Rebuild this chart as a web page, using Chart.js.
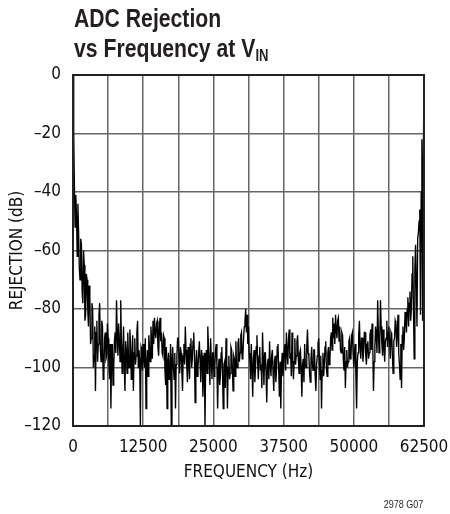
<!DOCTYPE html>
<html><head><meta charset="utf-8">
<script src="https://cdn.jsdelivr.net/npm/chart.js@4.4.1/dist/chart.umd.min.js"></script>
<style>
html,body{margin:0;padding:0;background:#fff;}
#wrap{position:relative;width:450px;height:514px;overflow:hidden;}
canvas{position:absolute;left:0;top:0;}
#title{position:absolute;left:74px;top:3px;font-family:'Liberation Sans',Arial,sans-serif;font-weight:bold;font-size:26px;line-height:30px;color:#231f20;white-space:nowrap;transform:scaleX(0.815);transform-origin:0 0;}
#title .sub{font-size:16px;position:relative;top:4px;}
#note{position:absolute;right:27px;top:498px;font-family:'Liberation Sans',Arial,sans-serif;font-size:11px;line-height:13px;color:#231f20;white-space:nowrap;transform:scaleX(0.82);transform-origin:100% 0;}
</style></head>
<body>
<div id="wrap">
<canvas id="c" width="450" height="514" style="width:450px;height:514px"></canvas>
<div id="title">ADC Rejection<br>vs Frequency at V<span class="sub">IN</span></div>
<div id="note">2978 G07</div>
</div>
<script>
// Frequency spacing of the trace samples (Hz), starting at 0 Hz
const freqStepHz = 125;
// Rejection (dB), one value per 125 Hz, 0 .. 62500 Hz
const rejectionDb = [
  0, -20, -38, -52, -41, -48, -62, -44, -54, -66, -70, -56, -58, -74, -78, -60, -65, -84, -82, -68, -70, -80, -86, -72, -76, -92, -90, -78, -80, -100, -96, -86, -108, -88, -84, -98, -92, -82, -78, -94, -98, -84, -86, -104, -102, -90, -88, -97, -96, -85,
  -90, -98, -104, -92, -114, -96, -92, -106, -100, -91, -88, -95, -77, -89, -96, -85, -90, -98, -77, -92, -102, -94, -86, -99, -108, -91, -94, -102, -88, -96, -100, -87, -92, -104, -97, -89, -108, -95, -90, -99, -96, -88, -84, -100, -94, -98, -120, -93, -94, -101,
  -92, -97, -100, -90, -114, -99, -94, -103, -89, -93, -98, -86, -91, -97, -84, -92, -83, -88, -90, -85, -84, -93, -96, -87, -83, -91, -88, -95, -96, -89, -90, -101, -106, -93, -114, -98, -95, -104, -102, -92, -120, -97, -93, -100, -104, -95, -114, -99, -96, -90,
  -90, -97, -102, -93, -95, -101, -108, -96, -92, -99, -86, -94, -99, -105, -93, -98, -104, -92, -90, -100, -97, -91, -88, -96, -112, -99, -94, -103, -100, -95, -91, -98, -105, -94, -96, -110, -101, -95, -120, -99, -94, -102, -86, -93, -98, -106, -90, -97, -104, -95,
  -95, -103, -100, -94, -92, -99, -114, -101, -97, -106, -103, -95, -93, -102, -114, -99, -98, -107, -90, -97, -114, -100, -96, -104, -102, -93, -94, -100, -108, -96, -97, -103, -91, -99, -100, -92, -90, -98, -95, -89, -88, -97, -96, -90, -86, -84, -80, -88, -82, -92,
  -86, -95, -98, -104, -92, -100, -110, -97, -94, -105, -100, -93, -89, -98, -104, -96, -93, -101, -99, -107, -88, -97, -106, -95, -95, -102, -112, -99, -97, -104, -91, -99, -103, -96, -94, -102, -108, -98, -96, -105, -100, -93, -92, -101, -110, -98, -114, -100, -95, -103,
  -100, -94, -92, -101, -88, -95, -99, -90, -87, -97, -95, -103, -88, -96, -104, -98, -90, -99, -96, -91, -89, -97, -102, -95, -94, -100, -110, -99, -97, -105, -92, -100, -100, -93, -87, -95, -96, -102, -105, -97, -93, -99, -101, -94, -94, -103, -108, -99, -96, -92,
  -90, -98, -104, -96, -114, -101, -95, -103, -99, -93, -91, -100, -103, -95, -93, -99, -97, -90, -88, -94, -83, -90, -85, -92, -82, -87, -90, -84, -83, -91, -86, -94, -95, -88, -89, -97, -101, -93, -107, -98, -94, -100, -98, -91, -90, -97, -96, -89, -88, -95,
  -100, -94, -92, -103, -114, -98, -95, -89, -84, -93, -97, -90, -90, -98, -94, -88, -88, -96, -99, -92, -91, -97, -95, -89, -87, -94, -85, -92, -108, -98, -93, -86, -89, -95, -77, -88, -95, -90, -77, -86, -92, -96, -87, -93, -98, -91, -90, -84, -93, -88,
  -86, -92, -97, -88, -89, -96, -102, -91, -90, -84, -85, -93, -88, -82, -95, -99, -104, -92, -107, -89, -86, -94, -90, -81, -83, -88, -80, -76, -86, -78, -74, -84, -80, -68, -62, -80, -97, -66, -58, -72, -86, -56, -54, -50, -46, -82, -40, -22, -84, -30, 0
];
const xTickLabels = ['0', '12500', '25000', '37500', '50000', '62500'];
const yTickLabels = ['0', '\u201320', '\u201340', '\u201360', '\u201380', '\u2013100', '\u2013120'];

const points = rejectionDb.map((v, i) => ({x: i * freqStepHz, y: v}));
const FONT = "'DejaVu Sans Condensed', 'DejaVu Sans', sans-serif";

const frame = {
  id: 'frame',
  afterDraw(chart) {
    const {ctx, chartArea: a} = chart;
    ctx.save();
    ctx.strokeStyle = '#222';
    ctx.lineWidth = 2;
    ctx.strokeRect(a.left, a.top, a.right - a.left, a.bottom - a.top);
    ctx.restore();
  }
};

new Chart(document.getElementById('c'), {
  type: 'line',
  data: {datasets: [{data: points, borderColor: '#000', borderWidth: 1.35, pointRadius: 0, tension: 0, fill: false}]},
  options: {
    responsive: false,
    animation: false,
    layout: {padding: {top: 75, right: 26, left: 0, bottom: 0}},
    plugins: {legend: {display: false}, tooltip: {enabled: false}},
    scales: {
      x: {
        type: 'linear', min: 0, max: 62500,
        afterFit(s) { s.height = 88; s.paddingRight = 0; s.paddingLeft = 0; },
        grid: {color: '#666', lineWidth: 1.5, drawTicks: false},
        border: {color: '#222', width: 2},
        ticks: {
          stepSize: 6250, autoSkip: false, maxRotation: 0, padding: 11, color: '#111',
          font: {family: FONT, size: 17},
          callback: (v) => (v % 12500 === 0 ? xTickLabels[v / 12500] : '')
        },
        title: {display: true, text: 'FREQUENCY (Hz)', color: '#111', font: {family: FONT, size: 17}, padding: {top: 0, bottom: 31}}
      },
      y: {
        min: -120, max: 0,
        afterFit(s) { s.width = 73; s.paddingTop = 0; s.paddingBottom = 0; },
        grid: {color: '#666', lineWidth: 1.5, drawTicks: false},
        border: {color: '#222', width: 2},
        ticks: {
          stepSize: 20, padding: 12, color: '#111',
          font: {family: FONT, size: 17},
          callback: (v) => yTickLabels[Math.round(-v / 20)]
        },
        title: {display: true, text: 'REJECTION (dB)', color: '#111', font: {family: FONT, size: 17}, padding: {top: 7, bottom: 0}}
      }
    }
  },
  plugins: [frame]
});
</script>
</body></html>
